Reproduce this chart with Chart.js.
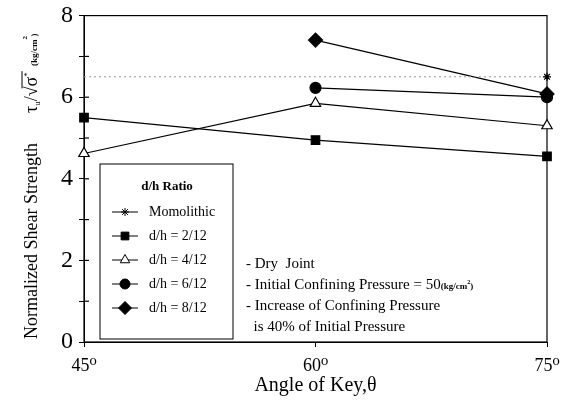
<!DOCTYPE html>
<html>
<head>
<meta charset="utf-8">
<script src="https://cdn.jsdelivr.net/npm/chart.js@4/dist/chart.umd.min.js"></script>
<style>
  html, body { margin: 0; padding: 0; background: #fff; }
  #wrap { width: 575px; height: 402px; }
</style>
</head>
<body>
<div id="wrap"><canvas id="chart" width="575" height="402"></canvas></div>
<script>
// angle of key (deg)
const angles = [45, 60, 75]

const monolithic = [6.5, 6.5, 6.5]
const dh2 = [5.5, 4.95, 4.55]
const dh4 = [4.62, 5.85, 5.3]
const dh6 = [null, 6.23, 6.0]
const dh8 = [null, 7.4, 6.08]

const yTicks = [0, 2, 4, 6, 8]
const notes = [
    '- Dry  Joint',
    '- Initial Confining Pressure = 50',
    '- Increase of Confining Pressure',
    '  is 40% of Initial Pressure'
]

const serif = '"Liberation Serif", "DejaVu Serif", serif'
const pts = arr => arr.map((v, i) => ({ x: angles[i], y: v }))

const datasets = [
    { label: 'Momolithic', data: pts(monolithic), borderColor: '#999', borderDash: [2, 3], borderWidth: 1,
      pointStyle: 'star', pointRadius: [0, 0, 4] },
    { label: 'd/h = 2/12', data: pts(dh2), pointStyle: 'rect', pointRadius: 6, pointBackgroundColor: '#000' },
    { label: 'd/h = 4/12', data: pts(dh4), pointStyle: 'triangle', pointRadius: 6, pointBackgroundColor: '#fff' },
    { label: 'd/h = 6/12', data: pts(dh6), pointStyle: 'circle', pointRadius: 5.5, pointBackgroundColor: '#000' },
    { label: 'd/h = 8/12', data: pts(dh8), pointStyle: 'rectRot', pointRadius: 7, pointBackgroundColor: '#000' },
]
datasets.forEach((d, i) => {
    if (i > 0) { d.borderColor = '#000'; d.borderWidth = 1.2 }
    d.pointBorderColor = '#000'
    d.pointBorderWidth = 1.2
    d.fill = false
    d.tension = 0
    d.clip = false
})

const decor = {
    id: 'decor',
    beforeDatasetsDraw(chart) {
        const ctx = chart.ctx
        const a = chart.chartArea
        const ys = chart.scales.y
        ctx.save()
        ctx.strokeStyle = '#000'
        ctx.lineWidth = 1.2
        ctx.strokeRect(a.left, a.top, a.right - a.left, a.bottom - a.top)
        for (let v = 1; v < 8; v++) {
            const y = ys.getPixelForValue(v)
            ctx.beginPath(); ctx.moveTo(a.left, y); ctx.lineTo(a.left + 5, y); ctx.stroke()
        }
        ctx.restore()
    },
    afterDraw(chart) {
        const ctx = chart.ctx
        ctx.save()
        // y axis title
        ctx.fillStyle = '#000'
        ctx.strokeStyle = '#000'
        ctx.translate(37, 339)
        ctx.rotate(-Math.PI / 2)
        ctx.font = '18px ' + serif
        ctx.textBaseline = 'alphabetic'
        ctx.fillText('Normalized Shear Strength', 0, 0)
        let x = 226
        ctx.font = '18px ' + serif
        ctx.fillText('τ', x, 0); x += ctx.measureText('τ').width
        ctx.font = '9px ' + serif
        ctx.fillText('u', x, 3); x += ctx.measureText('u').width
        ctx.font = '18px ' + serif
        ctx.fillText('/√', x, 0); x += ctx.measureText('/√').width
        const sx = x
        ctx.fillText('σ', x, 0); x += ctx.measureText('σ').width
        ctx.font = '9px ' + serif
        ctx.fillText('*', x, -7); x += ctx.measureText('*').width + 1
        ctx.lineWidth = 1
        ctx.beginPath(); ctx.moveTo(sx - 2, -15); ctx.lineTo(x, -15); ctx.stroke()
        ctx.font = 'bold 9px ' + serif
        ctx.fillText(' (kg/cm', x + 3, 0); x += ctx.measureText(' (kg/cm').width + 3
        ctx.font = 'bold 7px ' + serif
        ctx.fillText('2', x, -10)
        ctx.font = 'bold 9px ' + serif
        ctx.fillText(')', x + 3, 0)
        ctx.setTransform(1, 0, 0, 1, 0, 0)

        // legend box
        const bx = 100, by = 164, bw = 133, bh = 175
        ctx.fillStyle = '#fff'
        ctx.fillRect(bx, by, bw, bh)
        ctx.lineWidth = 1
        ctx.strokeRect(bx, by, bw, bh)
        ctx.fillStyle = '#000'
        ctx.font = 'bold 13px ' + serif
        ctx.textAlign = 'center'
        ctx.textBaseline = 'middle'
        ctx.fillText('d/h Ratio', bx + 67, 187)
        ctx.textAlign = 'left'
        ctx.font = '14px ' + serif
        chart.data.datasets.forEach((d, i) => {
            const y = 212 + i * 24
            ctx.strokeStyle = '#000'
            ctx.lineWidth = 1
            ctx.setLineDash([])
            ctx.beginPath(); ctx.moveTo(112, y); ctx.lineTo(138, y); ctx.stroke()
            ctx.fillStyle = d.pointBackgroundColor || '#000'
            Chart.helpers.drawPoint(ctx, {
                pointStyle: d.pointStyle, radius: i === 0 ? 4 : d.pointRadius - 0.5,
                rotation: 0, borderWidth: 1.2
            }, 125, y)
            ctx.fillStyle = '#000'
            ctx.fillText(d.label, 149, y)
        })

        // notes
        ctx.font = '15px ' + serif
        ctx.textBaseline = 'alphabetic'
        notes.forEach((t, i) => {
            ctx.fillText(t, 246, 268 + i * 21)
        })
        let nx = 246 + ctx.measureText(notes[1]).width
        ctx.font = 'bold 9px ' + serif
        ctx.fillText('(kg/cm', nx, 289)
        nx += ctx.measureText('(kg/cm').width
        ctx.font = 'bold 6px ' + serif
        ctx.fillText('2', nx, 284)
        ctx.font = 'bold 9px ' + serif
        ctx.fillText(')', nx + 3, 289)
        ctx.restore()
    }
}

new Chart(document.getElementById('chart').getContext('2d'), {
    type: 'line',
    data: { datasets },
    options: {
        responsive: false,
        animation: false,
        layout: { padding: { top: 15, right: 28, left: 0, bottom: 0 } },
        plugins: { legend: { display: false }, tooltip: { enabled: false } },
        scales: {
            x: {
                type: 'linear', min: 45, max: 75,
                afterFit: s => { s.height = 60 },
                afterBuildTicks: s => { s.ticks = angles.map(v => ({ value: v })) },
                grid: { display: true, drawOnChartArea: false, tickLength: 5, color: '#000' },
                border: { color: '#000' },
                ticks: { color: '#000', font: { size: 18, family: serif }, padding: 8,
                         callback: v => v + '⁰', maxRotation: 0 },
                title: { display: true, text: 'Angle of Key,θ', color: '#000',
                         font: { size: 20, family: serif }, padding: { top: 0 } }
            },
            y: {
                min: 0, max: 8,
                afterFit: s => { s.width = 84 },
                afterBuildTicks: s => { s.ticks = [0, 1, 2, 3, 4, 5, 6, 7, 8].map(v => ({ value: v })) },
                grid: { display: true, drawOnChartArea: false, tickLength: 5, color: '#000' },
                border: { color: '#000' },
                ticks: { color: '#000', font: { size: 24, family: serif, lineHeight: 0.8 }, padding: 6,
                         callback: v => yTicks.includes(v) ? String(v) : '' }
            }
        }
    },
    plugins: [decor]
})
</script>
</body>
</html>
